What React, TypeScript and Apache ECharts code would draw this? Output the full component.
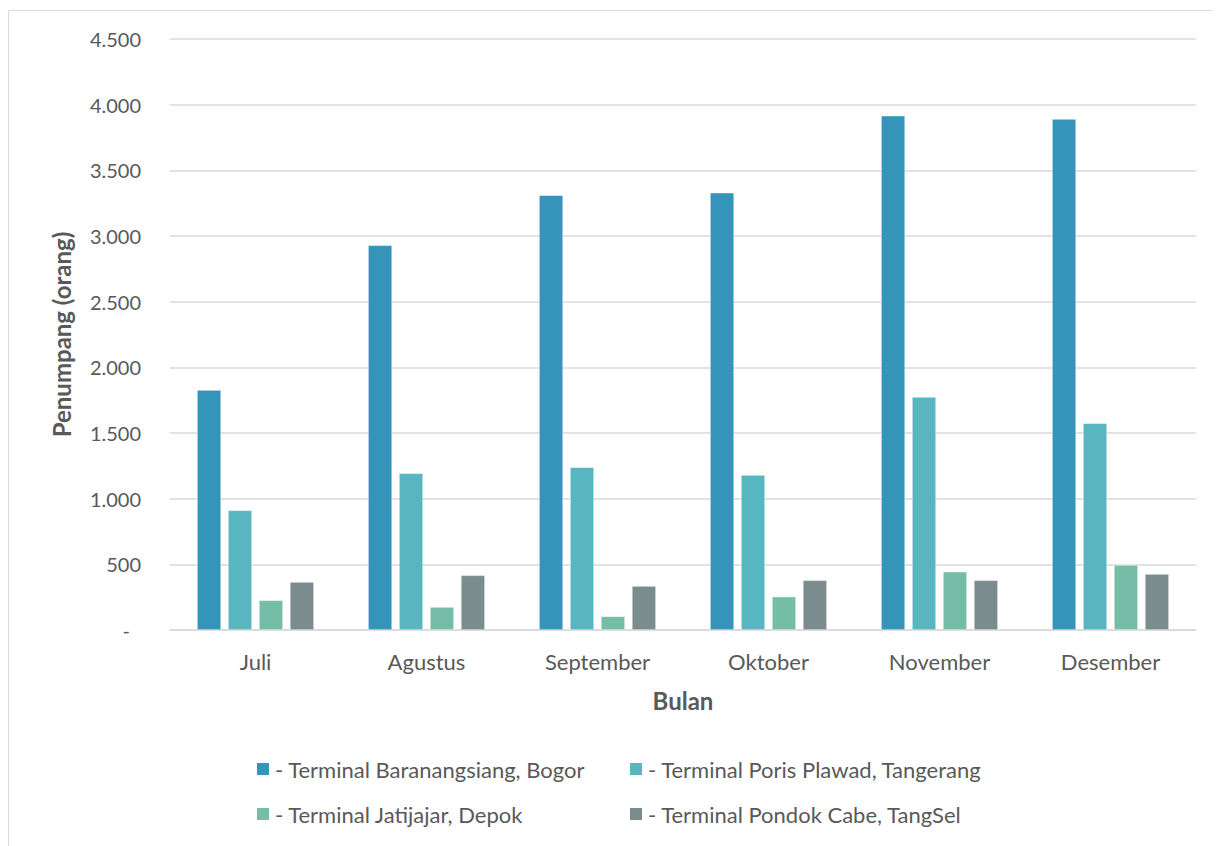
import React, { useEffect, useRef } from "react";
import * as echarts from "echarts";

const categories = ["Juli", "Agustus", "September", "Oktober", "November", "Desember"];
const seriesNames = [
  "- Terminal Baranangsiang, Bogor",
  "- Terminal Poris Plawad, Tangerang",
  "- Terminal Jatijajar, Depok",
  "- Terminal Pondok Cabe, TangSel",
];
const bogor = [1827, 2929, 3310, 3330, 3916, 3891];
const tangerang = [911, 1193, 1239, 1180, 1774, 1574];
const depok = [226, 175, 104, 254, 444, 495];
const tangsel = [365, 416, 335, 378, 378, 426];
const colors = ["#3494BA", "#58B6C0", "#75BDA7", "#7A8C8E"];

const FONT = "Lato, 'Open Sans', sans-serif";
const TXT = "#595959";

function fmt(v: number): string {
  if (v === 0) return "{dash|-}";
  return String(v).replace(/\B(?=(\d{3})+(?!\d))/g, ".");
}

export default function App() {
  const ref = useRef<HTMLDivElement>(null);
  useEffect(() => {
    if (!ref.current) return;
    const chart = echarts.init(ref.current, undefined, { renderer: "svg" });
    const data = [bogor, tangerang, depok, tangsel];
    const legendBase = {
      orient: "vertical",
      top: 750,
      padding: 0,
      itemWidth: 14,
      itemHeight: 14,
      itemGap: 23,
      icon: "rect",
      textStyle: { color: TXT, fontSize: 22, fontFamily: FONT },
    };
    chart.setOption({
      animation: false,
      backgroundColor: "#ffffff",
      textStyle: { fontFamily: FONT },
      graphic: [
        {
          type: "rect",
          shape: { x: 0.5, y: 2.5, width: 1400, height: 1000 },
          style: { fill: "none", stroke: "#d9d9d9", lineWidth: 1 },
          silent: true,
        },
      ],
      grid: { left: 162, right: 24, top: 31, bottom: 216, containLabel: false },
      legend: [
        { ...legendBase, left: 247, data: [seriesNames[0], seriesNames[2]] },
        { ...legendBase, left: 620, data: [seriesNames[1], seriesNames[3]] },
      ],
      xAxis: {
        type: "category",
        data: categories,
        axisLine: { show: true, lineStyle: { color: "#d9d9d9", width: 1.5 } },
        axisTick: { show: false },
        axisLabel: { color: TXT, fontSize: 22, margin: 20, fontFamily: FONT },
        name: "Bulan",
        nameLocation: "middle",
        nameGap: 58,
        nameTextStyle: { color: TXT, fontSize: 24, fontWeight: "bold", fontFamily: FONT },
      },
      yAxis: {
        type: "value",
        min: 0,
        max: 4500,
        interval: 500,
        axisLine: { show: false },
        axisTick: { show: false },
        splitLine: { lineStyle: { color: "#d9d9d9", width: 1.5 } },
        axisLabel: {
          color: TXT,
          fontSize: 20,
          margin: 29,
          fontFamily: FONT,
          formatter: (v: number) => fmt(v),
          rich: { dash: { color: TXT, fontSize: 20, fontFamily: FONT, padding: [0, 11, 0, 0] } },
        },
        name: "Penumpang (orang)",
        nameLocation: "middle",
        nameGap: 97,
        nameTextStyle: { color: TXT, fontSize: 24, fontWeight: "bold", fontFamily: FONT },
      },
      series: data.map((d, i) => ({
        name: seriesNames[i],
        type: "bar",
        data: d,
        barWidth: 24,
        barGap: "29%",
        itemStyle: { color: colors[i], borderColor: "#ffffff", borderWidth: 0.5 },
      })),
    });
    return () => chart.dispose();
  }, []);
  return <div ref={ref} style={{ width: 1212, height: 838 }} />;
}
